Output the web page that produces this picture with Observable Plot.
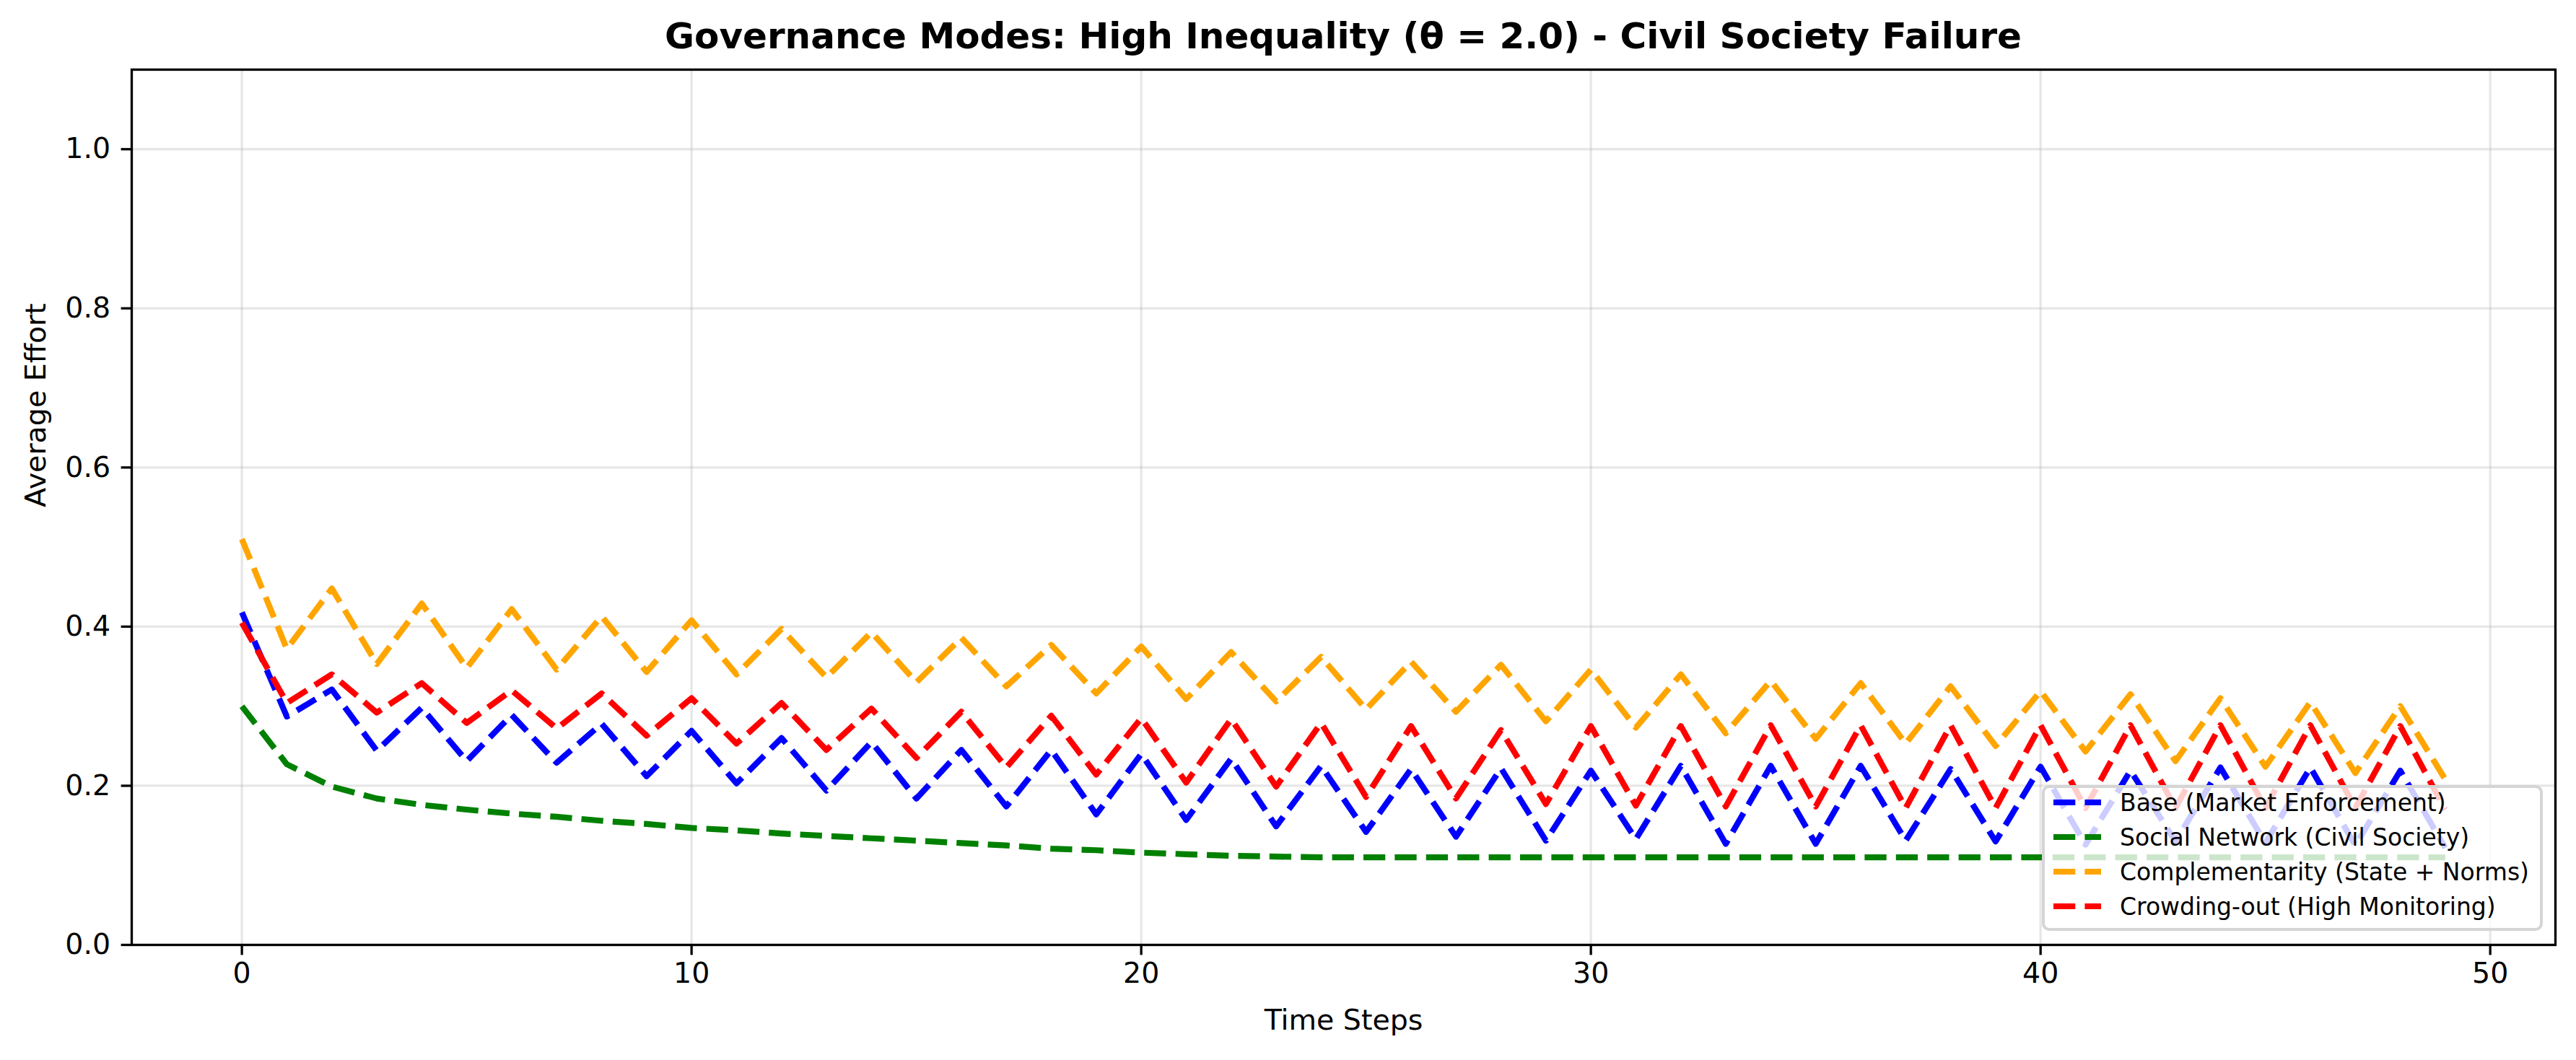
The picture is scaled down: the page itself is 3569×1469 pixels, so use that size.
<!DOCTYPE html>
<html>
<head>
<meta charset="utf-8">
<script src="https://cdn.jsdelivr.net/npm/d3@7"></script>
<script src="https://cdn.jsdelivr.net/npm/@observablehq/plot@0.6"></script>
<style>
  html, body { margin: 0; padding: 0; background: #fff; overflow: hidden; }
  #wrap { position: relative; width: 3569px; height: 1469px; font-family: "DejaVu Sans", sans-serif; color: #000; }
  #title { position: relative; margin-left: 182px; width: 3358px; height: 86px; line-height: 100px; text-align: center; font-weight: bold; font-size: 50px; white-space: nowrap; }
  #legend { position: absolute; left: 2829px; top: 1088px; width: 694px; height: 202px; box-sizing: border-box; border: 4px solid #d5d5d5; border-radius: 10px; background: rgba(255,255,255,0.8); padding-left: 12px; display: flex; flex-direction: column; font-size: 33px; }
  #legend .row { height: 48px; display: flex; align-items: center; white-space: nowrap; }
  #legend .row:first-child { margin-top: -4px; }
  #legend svg { margin-right: 26px; flex: none; }
</style>
</head>
<body>
<div id="wrap">
  <div id="title">Governance Modes: High Inequality (θ = 2.0) - Civil Society Failure</div>
  <div id="chart"></div>
  <div id="legend"></div>
</div>
<script>
const steps = [0,1,2,3,4,5,6,7,8,9,10,11,12,13,14,15,16,17,18,19,20,21,22,23,24,25,26,27,28,29,30,31,32,33,34,35,36,37,38,39,40,41,42,43,44,45,46,47,48,49];

const base = [0.418,0.287,0.321,0.244,0.298,0.231,0.289,0.229,0.278,0.212,
              0.269,0.203,0.260,0.194,0.255,0.184,0.245,0.174,0.245,0.164,
              0.240,0.157,0.234,0.149,0.225,0.142,0.221,0.136,0.222,0.131,
              0.219,0.133,0.225,0.127,0.225,0.127,0.225,0.131,0.221,0.130,
              0.224,0.126,0.219,0.130,0.223,0.128,0.223,0.125,0.219,0.122];

const social = [0.300,0.227,0.199,0.184,0.176,0.170,0.165,0.161,0.156,0.152,
                0.147,0.144,0.140,0.137,0.134,0.131,0.128,0.125,0.121,0.119,
                0.116,0.114,0.112,0.111,0.110,0.110,0.110,0.110,0.110,0.110,
                0.110,0.110,0.110,0.110,0.110,0.110,0.110,0.110,0.110,0.110,
                0.110,0.110,0.110,0.110,0.110,0.110,0.110,0.110,0.110,0.110];

const complementarity = [0.510,0.372,0.448,0.353,0.429,0.348,0.422,0.346,0.413,0.343,
                         0.408,0.340,0.397,0.336,0.393,0.330,0.386,0.325,0.377,0.316,
                         0.375,0.309,0.368,0.306,0.362,0.296,0.356,0.293,0.352,0.281,
                         0.346,0.273,0.340,0.266,0.332,0.259,0.329,0.253,0.325,0.250,
                         0.319,0.243,0.315,0.231,0.310,0.224,0.305,0.216,0.300,0.208];

const crowding = [0.405,0.304,0.340,0.292,0.329,0.279,0.320,0.272,0.316,0.263,
                  0.310,0.253,0.304,0.245,0.297,0.235,0.293,0.223,0.288,0.214,
                  0.285,0.204,0.284,0.199,0.279,0.186,0.275,0.184,0.270,0.177,
                  0.275,0.175,0.275,0.174,0.276,0.174,0.276,0.172,0.276,0.172,
                  0.276,0.172,0.276,0.172,0.276,0.172,0.276,0.172,0.275,0.170];

const seriesNames = ["Base (Market Enforcement)", "Social Network (Civil Society)", "Complementarity (State + Norms)", "Crowding-out (High Monitoring)"];
const seriesColors = ["blue", "green", "orange", "red"];
const xTicks = [0, 10, 20, 30, 40, 50];
const yTicks = [0, 0.2, 0.4, 0.6, 0.8, 1.0];

const titleText = "Governance Modes: High Inequality (θ = 2.0) - Civil Society Failure";
const xLabel = "Time Steps";
const yLabel = "Average Effort";

const LW = 8.2, DASH = "30.3,13.1", SPINE = 3.3, TICK = 14.4, FS = 39.5;

const seriesValues = [base, social, complementarity, crowding];
const lineMarks = seriesValues.map((vals, i) =>
  Plot.line(steps.map((t, j) => ({t, v: vals[j]})), {
    x: "t", y: "v", stroke: seriesColors[i], strokeWidth: LW,
    strokeDasharray: DASH, strokeLinejoin: "round", strokeLinecap: "butt"
  })
);

const chart = Plot.plot({
  width: 3569,
  height: 1383,
  marginTop: 10,
  marginBottom: 160,
  marginLeft: 182,
  marginRight: 29,
  style: {fontFamily: "DejaVu Sans", fontSize: FS + "px", background: "white", color: "black", overflow: "visible"},
  x: {domain: [-2.45, 51.45]},
  y: {domain: [0, 1.1]},
  marks: [
    Plot.gridX(xTicks, {stroke: "#b0b0b0", strokeOpacity: 0.3, strokeWidth: SPINE}),
    Plot.gridY(yTicks, {stroke: "#b0b0b0", strokeOpacity: 0.3, strokeWidth: SPINE}),
    ...lineMarks,
    Plot.frame({stroke: "black", strokeWidth: SPINE}),
    Plot.axisX(xTicks, {tickSize: TICK, tickPadding: 10, strokeWidth: SPINE, label: null, tickFormat: d => String(d), fontSize: FS}),
    Plot.axisY(yTicks, {tickSize: TICK, tickPadding: 15, strokeWidth: SPINE, label: null, tickFormat: d3.format(".1f"), fontSize: FS}),
    Plot.text([xLabel], {text: d => d, frameAnchor: "bottom", dy: 117, fontSize: FS, fill: "black"}),
    Plot.text([yLabel], {text: d => d, frameAnchor: "left", dx: -132, rotate: -90, fontSize: FS, fill: "black"})
  ]
});
document.getElementById("chart").appendChild(chart);
document.getElementById("title").textContent = titleText;

const legend = document.getElementById("legend");
seriesNames.forEach((name, i) => {
  const row = document.createElement("div");
  row.className = "row";
  row.innerHTML = `<svg width="66" height="20"><line x1="0" y1="10" x2="66" y2="10" stroke="${seriesColors[i]}" stroke-width="${LW}" stroke-dasharray="${DASH}"/></svg><span></span>`;
  row.querySelector("span").textContent = name;
  legend.appendChild(row);
});
</script>
</body>
</html>
